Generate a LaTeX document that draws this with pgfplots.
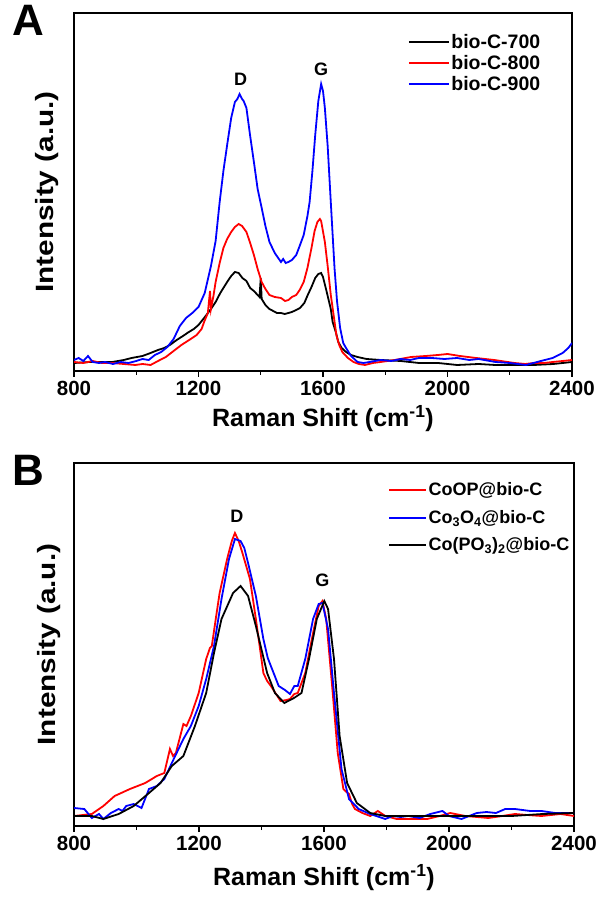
\documentclass[border=0pt]{standalone}
\usepackage{fontspec}
\setmainfont{Liberation Sans}
\usepackage{graphicx}
\usepackage{pgfplots}
\pgfplotsset{compat=1.18}
\begin{document}
\begin{tikzpicture}
\path[use as bounding box] (0pt,0pt) rectangle (597pt,899pt);
\pgfplotsset{
  myax/.style={
    scale only axis,
    anchor=south west,
    xmin=800, xmax=2400, ymin=0,
    xtick={800,1200,1600,2000,2400},
    minor xtick={1000,1400,1800,2200},
    xtick pos=bottom,
    tick align=outside,
    ytick=\empty,
    axis line style={line width=1.6pt},
    major tick length=6pt, minor tick length=4pt,
    every tick/.style={black, line width=1.4pt},
    /pgf/number format/assume math mode=true,
    /pgf/number format/1000 sep={},
    x tick label style={font=\bfseries\fontsize{20.5}{24}\selectfont, yshift=-1pt},
    label style={font=\bfseries\fontsize{25}{30}\selectfont},
    xlabel={Raman Shift (cm\textsuperscript{-1})},
    ylabel={\scalebox{1.19}[1]{Intensity (a.u.)}},
    legend cell align=left,
    every axis plot/.append style={line width=1.8pt, mark=none},
  }
}
% ---------- Panel A ----------
\begin{axis}[myax,
  at={(74pt,528pt)}, width=498pt, height=358pt, ymax=358,
  xlabel style={at={(axis description cs:0.5,0)}, anchor=center, yshift=-48pt},
  ylabel style={at={(axis description cs:-0.055,0.5)}, anchor=center},
  legend style={draw=none, fill=none, at={(axis description cs:0.67,0.945)}, anchor=north west,
    font=\bfseries\fontsize{19.5}{22}\selectfont, row sep=2.5pt, inner sep=0pt,
    nodes={inner sep=1.5pt}},
  legend image code/.code={\draw[#1, line width=2pt] (0pt,0pt) -- (40pt,0pt);},
]
\addplot[black] coordinates {(800,8)(850,9)(923,9)(960,11)(985,13)(1020,15)(1046,18)(1070,21)(1090,23)(1108,26)(1130,31)(1150,35)(1169,39)(1185,42)(1200,46)(1218,53)(1240,62)(1255,69)(1270,78)(1280,83)(1292,89)(1305,95)(1317,99)(1329,98)(1341,93)(1354,90)(1366,83)(1378,80)(1390,76)(1396,74)(1400,93)(1403,72)(1415,66)(1428,62)(1440,60)(1452,58)(1465,58)(1477,57)(1489,58)(1500,59)(1514,61)(1526,63)(1540,68)(1551,76)(1563,84)(1575,93)(1585,97)(1594,98)(1600,94)(1612,79)(1625,62)(1631,49)(1642,38)(1649,29)(1660,23)(1674,19)(1690,16)(1711,14)(1740,12)(1785,11)(1850,10)(1908,8)(1970,8)(2031,6)(2100,7)(2154,6)(2215,6)(2277,6)(2340,7)(2400,9)};
\addlegendentry{bio-C-700}
\addplot[red] coordinates {(800,9)(830,8)(860,10)(890,8)(923,8)(960,7)(997,6)(1020,7)(1046,6)(1070,10)(1095,14)(1120,20)(1145,26)(1170,31)(1194,36)(1210,42)(1218,49)(1230,58)(1237,80)(1240,62)(1248,75)(1255,89)(1268,108)(1280,123)(1292,132)(1305,139)(1317,144)(1329,147)(1340,145)(1354,139)(1366,128)(1378,116)(1390,102)(1403,89)(1415,82)(1428,76)(1445,74)(1465,73)(1478,70)(1489,71)(1500,74)(1514,76)(1525,81)(1538,89)(1550,103)(1563,123)(1573,140)(1582,149)(1590,152)(1594,150)(1606,129)(1615,105)(1625,76)(1635,54)(1643,36)(1652,26)(1662,19)(1680,13)(1698,9)(1715,7)(1735,6)(1760,8)(1785,9)(1830,11)(1883,14)(1930,15)(1969,16)(2000,17)(2040,15)(2092,13)(2150,11)(2215,8)(2250,7)(2277,8)(2310,8)(2338,9)(2370,10)(2400,11)};
\addlegendentry{bio-C-800}
\addplot[blue] coordinates {(800,11)(815,13)(830,10)(845,15)(860,9)(880,8)(900,9)(925,7)(950,9)(975,8)(1000,10)(1020,12)(1040,11)(1060,16)(1080,19)(1100,24)(1120,32)(1140,45)(1160,53)(1180,58)(1200,64)(1220,78)(1240,105)(1255,130)(1268,169)(1280,200)(1292,226)(1305,253)(1317,269)(1325,272)(1332,277)(1340,272)(1345,270)(1354,263)(1366,235)(1378,209)(1390,182)(1403,163)(1415,145)(1428,129)(1445,118)(1465,109)(1472,112)(1480,108)(1489,109)(1500,111)(1514,116)(1525,125)(1538,136)(1550,155)(1557,169)(1566,200)(1575,236)(1585,270)(1594,287)(1600,280)(1606,263)(1615,225)(1625,169)(1637,103)(1645,70)(1655,43)(1665,28)(1674,23)(1690,15)(1711,9)(1730,8)(1750,9)(1785,11)(1820,10)(1850,12)(1880,11)(1908,13)(1950,13)(1990,12)(2031,13)(2070,11)(2100,12)(2154,9)(2200,8)(2252,6)(2300,10)(2338,13)(2370,18)(2388,23)(2400,28)};
\addlegendentry{bio-C-900}
\node[font=\bfseries\fontsize{18}{20}\selectfont] at (axis cs:1335,292) {D};
\node[font=\bfseries\fontsize{18}{20}\selectfont] at (axis cs:1594,302) {G};
\end{axis}
\node[font=\bfseries\fontsize{44}{50}\selectfont, anchor=north west, inner sep=0pt] at (12pt,894pt) {A};
% ---------- Panel B ----------
\begin{axis}[myax,
  at={(74pt,73pt)}, width=500pt, height=363pt, ymax=363,
  xlabel style={at={(axis description cs:0.5,0)}, anchor=center, yshift=-52pt},
  ylabel style={at={(axis description cs:-0.05,0.5)}, anchor=center},
  legend style={draw=none, fill=none, at={(axis description cs:0.628,0.95)}, anchor=north west,
    font=\bfseries\fontsize{18}{21}\selectfont, row sep=10pt, inner sep=0pt,
    nodes={inner sep=1.5pt}},
  legend image code/.code={\draw[#1, line width=2pt] (0pt,0pt) -- (37pt,0pt);},
]
\addplot[red] coordinates {(800,10)(857,12)(894,20)(930,30)(979,37)(1028,43)(1065,50)(1089,53)(1107,77)(1117,70)(1126,73)(1150,102)(1160,100)(1174,110)(1199,133)(1223,167)(1235,178)(1241,180)(1255,210)(1266,233)(1290,267)(1305,285)(1315,293)(1327,285)(1339,273)(1363,247)(1382,207)(1406,153)(1418,145)(1430,140)(1461,125)(1480,126)(1491,127)(1505,132)(1516,133)(1540,153)(1565,193)(1583,220)(1595,225)(1607,207)(1626,140)(1644,73)(1662,37)(1672,34)(1680,32)(1690,22)(1699,17)(1723,13)(1748,10)(1772,15)(1796,10)(1833,7)(1882,7)(1930,7)(1970,10)(2004,13)(2052,10)(2090,9)(2126,8)(2170,10)(2211,12)(2250,11)(2296,10)(2357,12)(2400,10)};
\addlegendentry{CoOP@bio-C}
\addplot[blue] coordinates {(800,18)(833,17)(857,8)(880,12)(894,7)(918,13)(943,17)(955,15)(967,20)(991,22)(1016,18)(1040,37)(1065,40)(1089,47)(1113,63)(1150,87)(1174,100)(1199,120)(1223,147)(1248,180)(1272,227)(1296,267)(1315,287)(1333,285)(1345,278)(1357,263)(1382,230)(1406,187)(1420,168)(1430,160)(1455,140)(1475,136)(1491,132)(1505,140)(1516,140)(1540,167)(1565,207)(1583,222)(1595,223)(1613,197)(1632,133)(1656,57)(1680,27)(1711,17)(1748,12)(1796,7)(1820,10)(1845,9)(1870,10)(1906,8)(1940,12)(1979,15)(2000,10)(2040,7)(2089,13)(2120,14)(2150,13)(2180,17)(2211,17)(2260,15)(2296,15)(2340,13)(2400,13)};
\addlegendentry{Co\textsubscript{3}O\textsubscript{4}@bio-C}
\addplot[black] coordinates {(800,10)(857,10)(894,7)(943,12)(991,20)(1040,33)(1077,43)(1113,60)(1150,70)(1187,100)(1223,133)(1248,173)(1272,207)(1309,233)(1333,240)(1357,230)(1382,200)(1418,153)(1443,133)(1473,123)(1504,128)(1528,133)(1552,167)(1577,207)(1601,225)(1613,217)(1632,167)(1650,90)(1674,43)(1705,23)(1748,13)(1796,10)(1900,10)(2000,10)(2100,10)(2200,10)(2300,12)(2400,13)};
\addlegendentry{Co(PO\textsubscript{3})\textsubscript{2}@bio-C}
\node[font=\bfseries\fontsize{18}{20}\selectfont] at (axis cs:1321,310) {D};
\node[font=\bfseries\fontsize{18}{20}\selectfont] at (axis cs:1595,246) {G};
\end{axis}
\node[font=\bfseries\fontsize{44}{50}\selectfont, anchor=north west, inner sep=0pt] at (12pt,444pt) {B};
\end{tikzpicture}
\end{document}
